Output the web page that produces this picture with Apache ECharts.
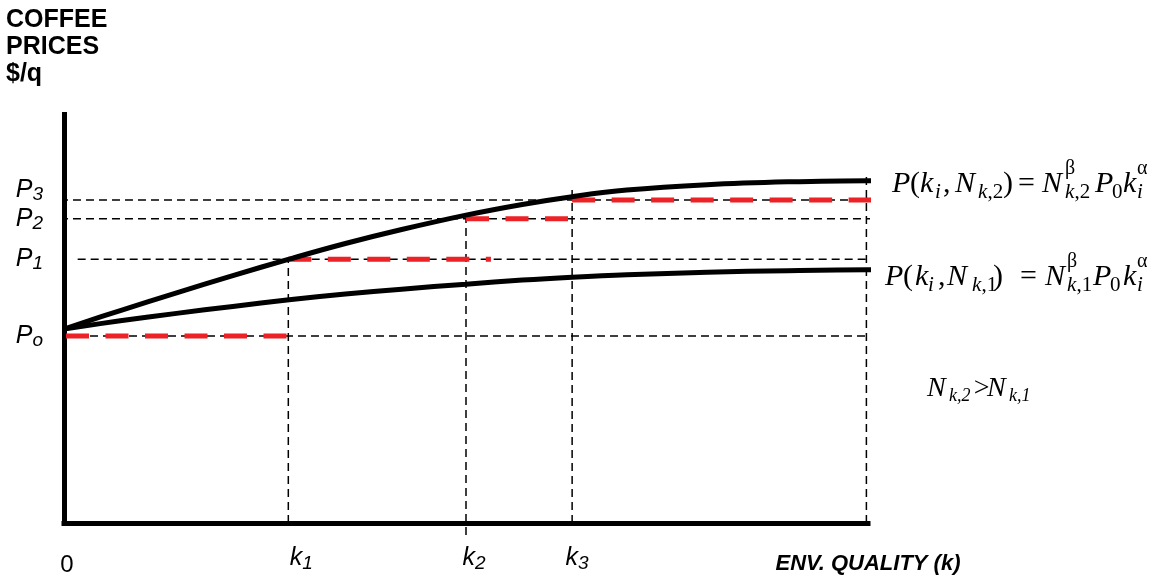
<!DOCTYPE html>
<html>
<head>
<meta charset="UTF-8">
<title>Coffee prices vs environmental quality</title>
<script src="https://cdn.jsdelivr.net/npm/echarts@6.0.0/dist/echarts.min.js"></script>
<style>
  html, body { margin: 0; padding: 0; background: #fff; }
  #chart { width: 1155px; height: 578px; }
</style>
</head>
<body>
<div id="chart"></div>
<script>
// quality levels k1..k3 on the x axis (axis runs 0..100)
const kLevels = [27.9, 50, 63.2];
const kNames = ['1', '2', '3'];
// price levels Po, P1, P2, P3 on the y axis (axis runs 0..100)
const pLevels = [45.5, 64.2, 74.0, 78.6];
const pNames = ['o', '1', '2', '3'];

// the two price curves: upper = N_k,2, lower = N_k,1
const curveX = [0, 7, 14, 21, 28, 35, 42, 50, 57, 63.2, 70, 80, 90, 100, 101.2];
const upperY = [47.2, 51.7, 56.0, 60.2, 64.2, 68.0, 71.4, 74.9, 77.5, 79.4, 81.0, 82.3, 83.0, 83.3, 83.3];
const lowerY = [47.2, 49.2, 51.0, 52.7, 54.3, 55.7, 56.9, 58.1, 59.1, 59.8, 60.4, 61.0, 61.4, 61.6, 61.6];

// red price steps (one per price level)
const stepFrom = [0.25, 27.9, 50, 63.2];
const stepTo = [27.9, 53.1, 63.2, 100.4];

// thin dashed guides
const hFrom = [0, 1.7, -0.5, -0.5];
const hTo = [100.9, 101.1, 102.4, 102.1];
const vX = [27.9, 50, 63.2, 99.8];
const vFrom = [0, -2.9, 0, 0];
const vTo = [64.2, 76.2, 82.2, 84.2];

const sans = '"Liberation Sans", Arial, sans-serif';
const serif = '"Liberation Serif", "Times New Roman", serif';

function seg(data, color, width, dash, z) {
  return {
    type: 'line', data: data, symbol: 'none', silent: true, clip: false, z: z,
    lineStyle: { color: color, width: width, type: dash, cap: 'butt' }
  };
}

const series = [];
pLevels.forEach((p, i) => series.push(seg([[hFrom[i], p], [hTo[i], p]], '#000', 1.5, [8, 5], 2)));
vX.forEach((x, i) => series.push(seg([[x, vFrom[i]], [x, vTo[i]]], '#000', 1.5, [8, 5], 2)));
pLevels.forEach((p, i) => series.push(seg([[stepFrom[i], p], [stepTo[i], p]], '#ec2227', 5, [23, 16.5], 3)));
[upperY, lowerY].forEach(ys => {
  series.push({
    type: 'line', data: curveX.map((x, i) => [x, ys[i]]), symbol: 'none', silent: true,
    clip: false, smooth: 0.4, z: 4, lineStyle: { color: '#000', width: 5 }
  });
});

// equation text, built piece by piece (offsets in px from the start)
const kinds = {
  m: { size: 30, italic: true, dy: 0 },
  r: { size: 30, italic: false, dy: 0 },
  si: { size: 21, italic: true, dy: 6 },
  sr: { size: 21, italic: false, dy: 6 },
  su: { size: 20, italic: false, dy: -18 },
  nm: { size: 28, italic: true, dy: 0 },
  ns: { size: 18, italic: true, dy: 5 }
};
const eqTokens = [['P', 'm'], ['(', 'r'], ['k', 'm'], ['i', 'si'], [',', 'r'], ['N', 'm'], ['k', 'si'], [',#', 'sr'],
  [')', 'r'], ['=', 'r'], ['N', 'm'], ['\u03b2', 'su'], ['k', 'si'], [',#', 'sr'], ['P', 'm'], ['0', 'sr'],
  ['k', 'm'], ['\u03b1', 'su'], ['i', 'si']];
const eqUpperDx = [0, 18, 28, 43, 51, 63, 86, 95.5, 111, 126, 150, 173, 173, 182.5, 203, 220, 231, 245, 245];
const eqLowerDx = [0, 18, 30, 43, 53, 62, 87, 96.5, 108, 135, 160, 182, 182, 191.5, 208, 225, 238, 252, 252];
const ineqTokens = [['N', 'nm'], ['k', 'ns'], [',2', 'ns'], ['>', 'nm'], ['N', 'nm'], ['k', 'ns'], [',1', 'ns']];
const ineqDx = [0, 22, 30, 45, 60, 82, 90];

function pieces(tokens, dxs, x0, base, n) {
  return tokens.map((tk, i) => {
    const k = kinds[tk[1]];
    return {
      type: 'text', x: x0 + dxs[i], y: base + k.dy - 0.3 * k.size, silent: true,
      style: {
        text: tk[0].replace('#', n), fill: '#000', fontFamily: serif, fontSize: k.size,
        fontStyle: k.italic ? 'italic' : 'normal', align: 'left', verticalAlign: 'middle'
      }
    };
  });
}

const graphics = [].concat(
  pieces(eqTokens, eqUpperDx, 892, 193, '2'),
  pieces(eqTokens, eqLowerDx, 885, 286, '1'),
  pieces(ineqTokens, ineqDx, 927, 397, '')
);

// tick label styles
const xTicks = [0].concat(kLevels);
const xNudge = [3, 13, 8, 5];
const xRich = {
  xs: { fontFamily: sans, fontStyle: 'italic', fontSize: 19, height: 18, verticalAlign: 'bottom', color: '#000' }
};
xNudge.forEach((n, i) => {
  xRich['a' + i] = i === 0
    ? { fontFamily: sans, fontSize: 24, lineHeight: 30, padding: [14, 0, 0, 2 * n], color: '#000' }
    : { fontFamily: sans, fontStyle: 'italic', fontSize: 25, lineHeight: 30, padding: [0, 0, 0, 2 * n], color: '#000' };
});
// the P3 label sits a little above its line so it clears P2
const yLabelAt = pLevels.map((p, i) => (i === 3 ? p + 2.4 : p));

const chart = echarts.init(document.getElementById('chart'));
chart.setOption({
  animation: false,
  backgroundColor: '#fff',
  title: {
    text: 'COFFEE\nPRICES\n$/q', left: 6, top: 7, padding: 0,
    textStyle: { fontFamily: sans, fontWeight: 'bold', fontSize: 25, lineHeight: 27, color: '#000' }
  },
  grid: { left: 64, right: 287, top: 112, bottom: 55, containLabel: false, outerBoundsMode: 'none' },
  xAxis: {
    type: 'value', min: 0, max: 100,
    axisLine: { show: true, onZero: false, lineStyle: { color: '#000', width: 5, cap: 'square' } },
    axisTick: { show: false },
    splitLine: { show: false },
    axisLabel: {
      customValues: xTicks, margin: 20, rich: xRich, hideOverlap: false,
      formatter: v => {
        const i = xTicks.indexOf(v);
        return i === 0 ? '{a0|0}' : '{a' + i + '|k}{xs|' + kNames[i - 1] + '}';
      }
    },
    name: 'ENV. QUALITY (k)', nameLocation: 'end', nameGap: 0,
    nameTextStyle: {
      fontFamily: sans, fontWeight: 'bold', fontStyle: 'italic', fontSize: 22, lineHeight: 26,
      color: '#000', align: 'center', verticalAlign: 'top', padding: [28, 0, 0, 0]
    }
  },
  yAxis: {
    type: 'value', min: 0, max: 100,
    axisLine: { show: true, onZero: false, lineStyle: { color: '#000', width: 5, cap: 'butt' } },
    axisTick: { show: false },
    splitLine: { show: false },
    axisLabel: {
      customValues: yLabelAt, margin: 21, hideOverlap: false,
      rich: {
        p: { fontFamily: sans, fontStyle: 'italic', fontSize: 25, lineHeight: 28, color: '#000' },
        s: { fontFamily: sans, fontStyle: 'italic', fontSize: 19, height: 18, verticalAlign: 'bottom', color: '#000' }
      },
      formatter: v => '{p|P}{s|' + pNames[yLabelAt.indexOf(v)] + '}'
    }
  },
  graphic: graphics,
  series: series
});
</script>
</body>
</html>
